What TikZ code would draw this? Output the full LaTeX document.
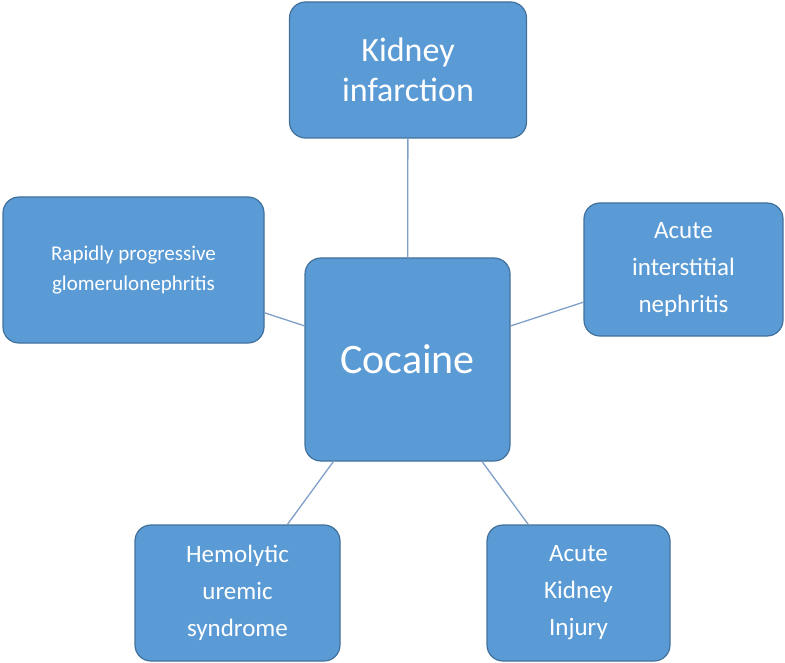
\documentclass[tikz,border=0pt]{standalone}
\usepackage{fontspec}
\setmainfont{Carlito}
\definecolor{boxfill}{HTML}{5B9BD5}
\definecolor{boxline}{HTML}{41719C}
\definecolor{conn}{HTML}{7F9FC8}
\begin{document}
\begin{tikzpicture}[x=1pt,y=-1pt,
  box/.style={draw=boxline,line width=1.2pt,fill=boxfill,rounded corners=16pt,text=white,align=center,inner sep=0pt},
  link/.style={draw=conn,line width=1.3pt}]
\useasboundingbox (0,0) rectangle (785,663);
\node[box,minimum width=237pt,minimum height=136pt,font=\fontsize{34}{40}\selectfont] (k) at (408,70) {Kidney\\infarction};
\node[box,minimum width=261pt,minimum height=146pt,font=\fontsize{21}{30}\selectfont] (r) at (133.5,270) {Rapidly progressive\\glomerulonephritis};
\node[box,minimum width=199pt,minimum height=133pt,font=\fontsize{25}{37}\selectfont] (a) at (683.5,269.5) {Acute\\interstitial\\nephritis};
\node[box,minimum width=205pt,minimum height=203pt,font=\fontsize{42}{50}\selectfont] (c) at (407.5,359.5) {Cocaine};
\node[box,minimum width=205pt,minimum height=136pt,font=\fontsize{25}{37}\selectfont] (h) at (237.5,593) {Hemolytic\\uremic\\syndrome};
\node[box,minimum width=183pt,minimum height=136pt,font=\fontsize{25}{37}\selectfont] (i) at (578.5,593) {Acute\\Kidney\\Injury};
\draw[link] (k) -- (c);
\draw[link] (r) -- (c);
\draw[link] (a) -- (c);
\draw[link] (h) -- (c);
\draw[link] (i) -- (c);
\end{tikzpicture}
\end{document}
